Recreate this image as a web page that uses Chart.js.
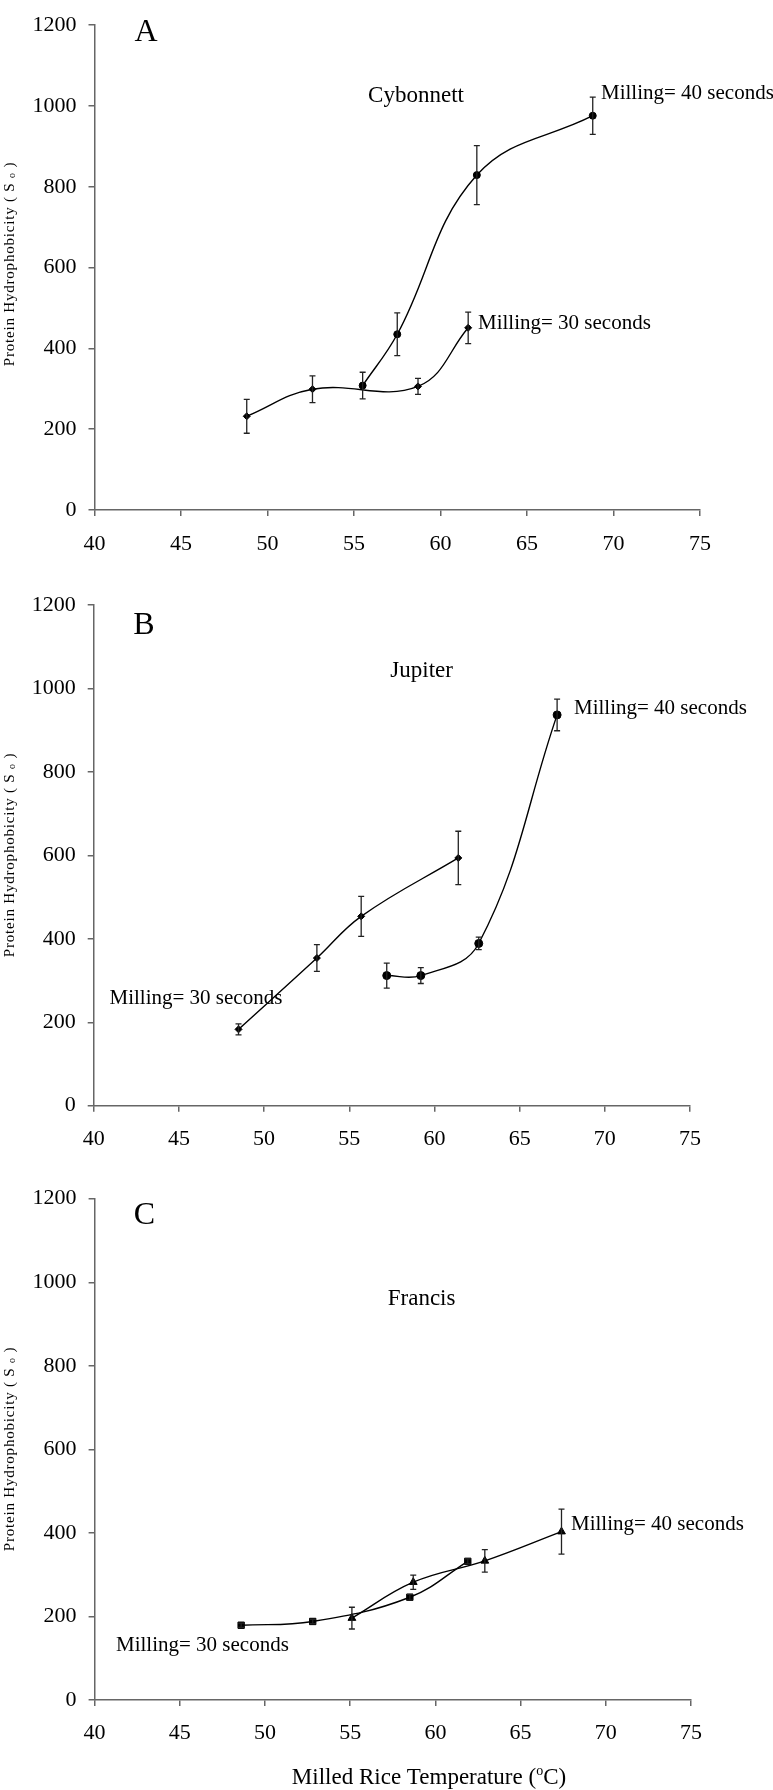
<!DOCTYPE html>
<html>
<head>
<meta charset="utf-8">
<script src="https://cdn.jsdelivr.net/npm/chart.js@4.4.1/dist/chart.umd.min.js"></script>
<style>
body { margin: 0; background: #fff; width: 773px; height: 1790px; position: relative; overflow: hidden; }
canvas { position: absolute; left: 0; }
</style>
</head>
<body>
<canvas id="panelA" width="773" height="580" style="top:0px"></canvas>
<canvas id="panelB" width="773" height="590" style="top:580px"></canvas>
<canvas id="panelC" width="773" height="620" style="top:1170px"></canvas>
<script>
// tick labels
var tempTicks = [40, 45, 50, 55, 60, 65, 70, 75];
var hydroTicks = [0, 200, 400, 600, 800, 1000, 1200];

// A - Cybonnett
var cybTemp30 = [48.8, 52.6, 58.7, 61.6];
var cybS30 = [232, 299, 306, 451];
var cybErr30 = [42, 33, 20, 39];
var cybTemp40 = [55.5, 57.5, 62.1, 68.8];
var cybS40 = [308, 435, 829, 976];
var cybErr40 = [33, 53, 73, 46];

// B - Jupiter
var jupTemp30 = [48.5, 53.1, 55.7, 61.4];
var jupS30 = [183, 354, 454, 594];
var jupErr30 = [13, 32, 48, 64];
var jupTemp40 = [57.2, 59.2, 62.6, 67.2];
var jupS40 = [312, 312, 389, 937];
var jupErr40 = [30, 19, 15, 38];

// C - Francis
var fraTemp30 = [48.6, 52.8, 58.5, 61.9];
var fraS30 = [179, 188, 246, 332];
var fraErr30 = [5, 5, 7, 6];
var fraTemp40 = [55.1, 58.7, 62.9, 67.4];
var fraS40 = [196, 282, 333, 403];
var fraErr40 = [26, 17, 27, 54];

var SERIF = "'Liberation Serif', 'Times New Roman', serif";

var errorBars = {
  id: 'errorBars',
  afterDatasetsDraw: function (chart) {
    var ctx = chart.ctx, xs = chart.scales.x, ys = chart.scales.y;
    ctx.save();
    ctx.strokeStyle = '#222';
    ctx.lineWidth = 1.3;
    chart.data.datasets.forEach(function (ds) {
      ds.data.forEach(function (p, i) {
        var e = ds.err[i];
        if (!e) return;
        var px = xs.getPixelForValue(p.x);
        var y1 = ys.getPixelForValue(p.y + e);
        var y2 = ys.getPixelForValue(p.y - e);
        ctx.beginPath();
        ctx.moveTo(px, y1); ctx.lineTo(px, y2);
        ctx.moveTo(px - 3, y1); ctx.lineTo(px + 3, y1);
        ctx.moveTo(px - 3, y2); ctx.lineTo(px + 3, y2);
        ctx.stroke();
      });
    });
    ctx.restore();
  }
};

// text pieces: [{t, size, dy}]
function drawPieces(ctx, pieces, x, y, align, spacing) {
  var total = 0;
  pieces.forEach(function (p) {
    ctx.font = p.size + 'px ' + SERIF;
    ctx.letterSpacing = spacing || '0px';
    p.w = ctx.measureText(p.t).width;
    total += p.w;
  });
  var cx = align === 'center' ? x - total / 2 : x;
  pieces.forEach(function (p) {
    ctx.font = p.size + 'px ' + SERIF;
    ctx.letterSpacing = spacing || '0px';
    ctx.fillText(p.t, cx, y + (p.dy || 0));
    cx += p.w;
  });
}

var notes = {
  id: 'notes',
  afterDraw: function (chart, args, opts) {
    var ctx = chart.ctx;
    ctx.save();
    ctx.fillStyle = '#000';
    ctx.textBaseline = 'middle';
    ctx.textAlign = 'left';
    opts.items.forEach(function (n) {
      var y = n.y - opts.top;
      if (n.rotate) {
        ctx.save();
        ctx.translate(n.x, y);
        ctx.rotate(-Math.PI / 2);
        drawPieces(ctx, n.pieces, 0, 0, 'center', n.spacing);
        ctx.restore();
      } else {
        drawPieces(ctx, n.pieces, n.x, y, n.align, n.spacing);
      }
    });
    ctx.restore();
  }
};

function series(x, y, err, style, r) {
  return {
    data: x.map(function (v, i) { return { x: v, y: y[i] }; }),
    err: err,
    showLine: true,
    tension: 0.4,
    borderColor: '#000',
    borderWidth: 1.4,
    pointStyle: style,
    pointRadius: r,
    pointBackgroundColor: '#000',
    pointBorderColor: '#000',
    pointBorderWidth: 1
  };
}

function yTitle(cy) {
  return { rotate: true, x: 10, y: cy, spacing: '0.8px',
    pieces: [{ t: 'Protein Hydrophobicity ( S ', size: 15 }, { t: 'o', size: 10, dy: 2 }, { t: ' )', size: 15 }] };
}

function label(text, x, y, size, align) {
  return { x: x, y: y, align: align, pieces: [{ t: text, size: size }] };
}

function plain(v) { return String(v); }

function makePanel(id, top, area, tickPad, sets, items) {
  var canvas = document.getElementById(id);
  var h = canvas.height;
  return new Chart(canvas.getContext('2d'), {
    type: 'scatter',
    data: { datasets: sets },
    options: {
      responsive: false,
      animation: false,
      devicePixelRatio: 1,
      layout: { padding: { left: 0, right: 773 - area.right, top: area.top - top, bottom: 0 } },
      plugins: {
        legend: { display: false },
        tooltip: { enabled: false },
        notes: { items: items, top: top }
      },
      scales: {
        x: {
          type: 'linear', min: 40, max: 75,
          afterBuildTicks: function (s) { s.ticks = tempTicks.map(function (v) { return { value: v }; }); },
          afterFit: function (s) { s.height = top + h - area.bottom; },
          grid: { drawOnChartArea: false, drawTicks: true, tickLength: 6, color: '#666', lineWidth: 1.5 },
          border: { display: true, color: '#666', width: 1.5 },
          ticks: { color: '#000', padding: tickPad, maxRotation: 0, callback: plain, font: { family: SERIF, size: 22 } }
        },
        y: {
          type: 'linear', min: 0, max: 1200,
          afterBuildTicks: function (s) { s.ticks = hydroTicks.map(function (v) { return { value: v }; }); },
          afterFit: function (s) { s.width = area.left; },
          grid: { drawOnChartArea: false, drawTicks: true, tickLength: 6, color: '#666', lineWidth: 1.5 },
          border: { display: true, color: '#666', width: 1.5 },
          ticks: { color: '#000', padding: 12, callback: plain, font: { family: SERIF, size: 22 } }
        }
      }
    },
    plugins: [errorBars, notes]
  });
}

makePanel('panelA', 0, { left: 94.5, right: 700, top: 15, bottom: 510 }, 15, [
  series(cybTemp30, cybS30, cybErr30, 'rectRot', 3.5),
  series(cybTemp40, cybS40, cybErr40, 'circle', 3.5)
], [
  label('A', 146, 32.5, 32, 'center'),
  label('Cybonnett', 416, 96, 23, 'center'),
  label('Milling= 40 seconds', 601, 93, 21, 'left'),
  label('Milling= 30 seconds', 478, 323, 21, 'left'),
  yTitle(264)
]);

makePanel('panelB', 580, { left: 93.7, right: 690, top: 604.3, bottom: 1105.7 }, 14, [
  series(jupTemp30, jupS30, jupErr30, 'rectRot', 3.5),
  series(jupTemp40, jupS40, jupErr40, 'circle', 4)
], [
  label('B', 144, 625.5, 32, 'center'),
  label('Jupiter', 421.6, 671, 23, 'center'),
  label('Milling= 40 seconds', 574, 708, 21, 'left'),
  label('Milling= 30 seconds', 109.5, 998.6, 21, 'left'),
  yTitle(855)
]);

makePanel('panelC', 1170, { left: 94.6, right: 691, top: 1198.7, bottom: 1700 }, 14, [
  series(fraTemp30, fraS30, fraErr30, 'rect', 4.5),
  series(fraTemp40, fraS40, fraErr40, 'triangle', 4.5)
], [
  label('C', 144.5, 1216, 32, 'center'),
  label('Francis', 421.6, 1298.7, 23, 'center'),
  label('Milling= 40 seconds', 571, 1524, 21, 'left'),
  label('Milling= 30 seconds', 116, 1645, 21, 'left'),
  yTitle(1449),
  { x: 429, y: 1778, align: 'center',
    pieces: [{ t: 'Milled Rice Temperature (', size: 23 }, { t: 'o', size: 14, dy: -7 }, { t: 'C)', size: 23 }] }
]);
</script>
</body>
</html>
